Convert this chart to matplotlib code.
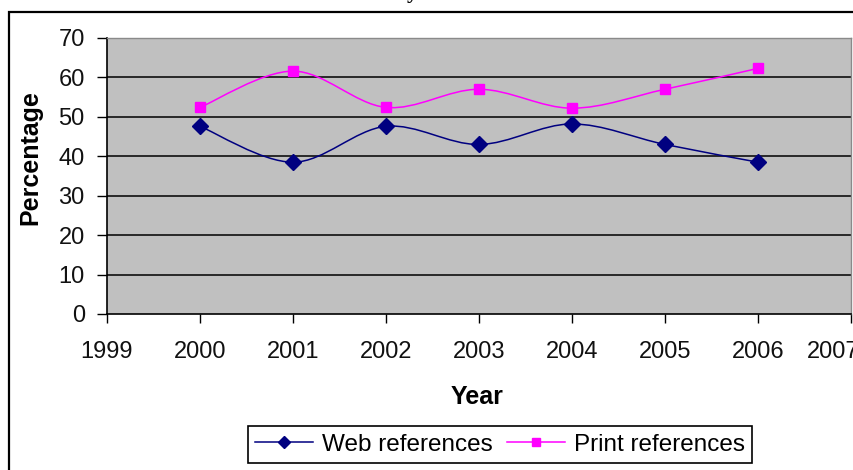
import numpy as np
import matplotlib
matplotlib.use("Agg")
import matplotlib.pyplot as plt
import matplotlib.transforms as mtransforms
from matplotlib.path import Path
from matplotlib.patches import PathPatch, Rectangle
from matplotlib.lines import Line2D

years = [2000, 2001, 2002, 2003, 2004, 2005, 2006]
web_refs = [47.6, 38.5, 47.6, 43.0, 48.2, 43.0, 38.5]
print_refs = [52.4, 61.6, 52.4, 57.0, 52.2, 57.0, 62.3]
x_ticks = list(range(1999, 2008))
y_ticks = list(range(0, 71, 10))

plt.rcParams['font.family'] = ['Liberation Sans', 'DejaVu Sans']

W, H = 854, 470
fig = plt.figure(figsize=(W / 100, H / 100), dpi=100)
fig.patch.set_facecolor('white')


def fx(px):
    return px / W


def fy(py):
    return 1 - py / H


ax = fig.add_axes([fx(107), fy(314), fx(851) - fx(107), fy(38) - fy(314)])
ax.set_facecolor('#c0c0c0')


def smooth_path(xs, ys):
    """Catmull-Rom style cubic Bezier through the points (a smoothed line)."""
    pts = np.column_stack([xs, ys]).astype(float)
    n = len(pts)
    verts = [pts[0]]
    codes = [Path.MOVETO]
    for i in range(n - 1):
        p0 = pts[i - 1] if i > 0 else pts[i]
        p1 = pts[i]
        p2 = pts[i + 1]
        p3 = pts[i + 2] if i + 2 < n else pts[i + 1]
        c1 = p1 + (p2 - p0) / 6.0
        c2 = p2 - (p3 - p1) / 6.0
        verts += [c1, c2, p2]
        codes += [Path.CURVE4] * 3
    return Path(verts, codes)


web_color = '#000080'
print_color = '#ff00ff'

for vals, col in ((web_refs, web_color), (print_refs, print_color)):
    ax.add_patch(PathPatch(smooth_path(years, vals), facecolor='none',
                           edgecolor=col, lw=1.1, zorder=3))

ax.plot(years, web_refs, ls='none', marker='D', ms=8.0, color=web_color,
        zorder=4)
ax.plot(years, print_refs, ls='none', marker='s', ms=7.5, color=print_color,
        zorder=4)

ax.set_xlim(1999, 2007)
ax.set_ylim(0, 70)
ax.set_xticks(x_ticks)
ax.set_yticks(y_ticks)
ax.set_xticklabels([str(v) for v in x_ticks], fontsize=17)
ax.set_yticklabels([str(v) for v in y_ticks], fontsize=17)
ax.tick_params(axis='y', direction='out', length=7, width=1, pad=9,
               colors='black')
ax.tick_params(axis='x', direction='out', length=6.5, width=1, pad=13,
               colors='black')
for lbl in ax.get_xticklabels() + ax.get_yticklabels():
    lbl.set_color('#111111')

# the last year label is nudged left so most of it stays on the canvas
last = ax.get_xticklabels()[-1]
last.set_transform(last.get_transform() +
                   mtransforms.ScaledTranslation(-18 / 100, 0,
                                                 fig.dpi_scale_trans))

for v in y_ticks[1:-1]:
    ax.axhline(v, color='black', lw=1.1, zorder=1)

ax.spines['left'].set_color('black')
ax.spines['left'].set_linewidth(1.2)
ax.spines['bottom'].set_color('black')
ax.spines['bottom'].set_linewidth(1.2)
ax.spines['top'].set_color('#8a8a8a')
ax.spines['right'].set_color('#8a8a8a')
ax.spines['top'].set_linewidth(1.0)
ax.spines['right'].set_linewidth(1.0)

fig.text(fx(477), fy(397), 'Year', fontsize=18, fontweight='bold',
         ha='center', va='center')
fig.text(fx(30), fy(158), 'Percentage', fontsize=18, fontweight='bold',
         ha='center', va='center', rotation=90)

# chart title, mostly above the visible area
fig.text(fx(412), 1 + 1.5 / H, 'y', fontsize=16, fontweight='bold',
         family='Liberation Serif', ha='center', va='baseline')

# outer chart frame
fig.patches.append(Rectangle((fx(9), fy(490)), fx(900) - fx(9),
                             fy(12) - fy(490), transform=fig.transFigure,
                             facecolor='none', edgecolor='black', lw=1.6,
                             zorder=0))

handles = [
    Line2D([], [], color=web_color, lw=1.1, marker='D', ms=6),
    Line2D([], [], color=print_color, lw=1.1, marker='s', ms=6),
]
leg = fig.legend(handles, ['Web references', 'Print references'],
                 loc='center', bbox_to_anchor=(fx(500), fy(444.5)),
                 ncol=2, fontsize=17.5, frameon=True, fancybox=False,
                 edgecolor='black', framealpha=1, handlelength=2.4,
                 handletextpad=0.35, columnspacing=0.6, borderpad=0.3,
                 borderaxespad=0)
leg.get_frame().set_linewidth(1.2)

fig.savefig('out.png', dpi=100, facecolor='white')
